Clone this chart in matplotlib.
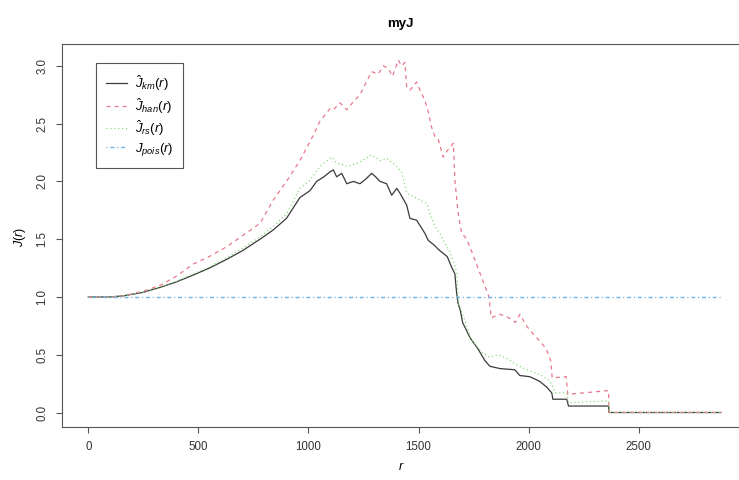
import matplotlib
matplotlib.use("Agg")
import matplotlib.pyplot as plt

plt.rcParams['font.family'] = ['Liberation Sans', 'DejaVu Sans']
plt.rcParams['mathtext.fontset'] = 'custom'
plt.rcParams['mathtext.rm'] = 'Liberation Sans'
plt.rcParams['mathtext.it'] = 'Liberation Sans:italic'
plt.rcParams['lines.scale_dashes'] = False

# J-function estimates against distance r
r_km = [0, 100, 160, 250, 326, 400, 477, 550, 628, 700, 780, 840, 900, 961, 1007,
        1037, 1070, 1098, 1113, 1128, 1151, 1174, 1204, 1234, 1260, 1287, 1305,
        1325, 1355, 1378, 1401, 1415, 1446, 1461, 1491, 1506, 1529, 1544, 1570,
        1597, 1630, 1652, 1665, 1672, 1679, 1690, 1700, 1733, 1770, 1801, 1824,
        1870, 1937, 1960, 2005, 2050, 2082, 2105, 2110, 2173, 2181, 2363, 2365, 2873]
j_km = [1.0, 1.0, 1.01, 1.04, 1.083, 1.13, 1.19, 1.25, 1.325, 1.40, 1.50, 1.58,
        1.68, 1.86, 1.92, 2.0, 2.04, 2.083, 2.10, 2.04, 2.07, 1.98, 2.0, 1.98,
        2.02, 2.07, 2.04, 2.0, 1.98, 1.88, 1.94, 1.90, 1.795, 1.68, 1.665, 1.62,
        1.55, 1.49, 1.45, 1.40, 1.35, 1.25, 1.2, 1.05, 0.95, 0.88, 0.78, 0.65,
        0.55, 0.45, 0.40, 0.38, 0.37, 0.32, 0.31, 0.27, 0.22, 0.17, 0.115, 0.115,
        0.056, 0.056, 0.0, 0.0]

r_han = [0, 100, 160, 250, 326, 400, 477, 550, 628, 700, 780, 840, 900, 961, 1022,
         1052, 1098, 1113, 1143, 1174, 1204, 1234, 1260, 1287, 1317, 1340, 1362,
         1382, 1408, 1423, 1438, 1446, 1461, 1491, 1506, 1529, 1544, 1559, 1574,
         1590, 1612, 1628, 1658, 1665, 1680, 1696, 1711, 1730, 1760, 1790, 1820,
         1830, 1870, 1910, 1940, 1960, 1990, 2020, 2050, 2080, 2100, 2107, 2170,
         2178, 2363, 2365, 2873]
j_han = [1.0, 1.0, 1.01, 1.05, 1.10, 1.18, 1.285, 1.35, 1.434, 1.53, 1.637, 1.838,
         2.0, 2.18, 2.40, 2.52, 2.63, 2.62, 2.68, 2.62, 2.69, 2.75, 2.85, 2.95,
         2.93, 3.0, 2.98, 2.91, 3.05, 3.0, 3.03, 2.82, 2.79, 2.86, 2.79, 2.70,
         2.60, 2.47, 2.39, 2.36, 2.21, 2.26, 2.33, 2.01, 1.72, 1.55, 1.52, 1.45,
         1.30, 1.15, 1.0, 0.82, 0.85, 0.82, 0.78, 0.85, 0.75, 0.68, 0.62, 0.55,
         0.45, 0.30, 0.31, 0.157, 0.19, 0.0, 0.0]

r_rs = [0, 100, 160, 250, 326, 400, 477, 550, 628, 700, 780, 840, 900, 961, 1007,
        1052, 1105, 1128, 1174, 1226, 1287, 1325, 1355, 1401, 1423, 1446, 1476,
        1506, 1537, 1552, 1574, 1597, 1612, 1640, 1660, 1675, 1680, 1700, 1720,
        1735, 1760, 1790, 1820, 1860, 1900, 1940, 1980, 2020, 2060, 2090, 2105,
        2120, 2173, 2181, 2363, 2365, 2873]
j_rs = [1.0, 1.0, 1.01, 1.04, 1.085, 1.135, 1.20, 1.26, 1.34, 1.42, 1.52, 1.61,
        1.72, 1.94, 2.01, 2.13, 2.21, 2.16, 2.13, 2.16, 2.23, 2.18, 2.20, 2.13,
        2.08, 1.90, 1.87, 1.84, 1.81, 1.72, 1.61, 1.55, 1.49, 1.40, 1.30, 1.20,
        0.95, 0.85, 0.75, 0.65, 0.58, 0.52, 0.48, 0.50, 0.47, 0.42, 0.38, 0.35,
        0.32, 0.28, 0.245, 0.17, 0.17, 0.085, 0.10, 0.0, 0.0]

r_pois = [0, 2873]
j_pois = [1.0, 1.0]

x_ticks = [0, 500, 1000, 1500, 2000, 2500]
y_ticks = [0.0, 0.5, 1.0, 1.5, 2.0, 2.5, 3.0]

fig = plt.figure(figsize=(7.39, 4.80), dpi=100)
ax = fig.add_axes([0.0843, 0.111, 0.9153, 0.797])

ax.plot(r_km, j_km, color='#3a3a3a', lw=0.9, ls='-', label=r'$\hat{J}_{km}(r)$')
ax.plot(r_han, j_han, color='#E8788A', lw=0.9, ls=(0, (2.9, 2.9)), label=r'$\hat{J}_{han}(r)$')
ax.plot(r_rs, j_rs, color='#7FD870', lw=0.9, ls=(0, (0.8, 2.0)), label=r'$\hat{J}_{rs}(r)$')
ax.plot(r_pois, j_pois, color='#6EB4EC', lw=1.0, ls=(0, (0.8, 2.0, 2.9, 2.0)), label=r'$J_{pois}(r)$')

ax.set_xlim(-118, 2954)
ax.set_ylim(-0.123, 3.188)
ax.set_xticks(x_ticks)
ax.set_xticklabels([str(v) for v in x_ticks])
ax.set_yticks(y_ticks)
ax.set_yticklabels([f'{v:.1f}' for v in y_ticks], rotation=90, va='center')

for s in ax.spines.values():
    s.set_color('#555555')
    s.set_linewidth(0.8)
ax.tick_params(direction='out', length=4, width=0.8, color='#555555',
               labelsize=8.3, labelcolor='#333333', pad=6)

ax.set_title('myJ', fontsize=9.5, fontweight='bold', pad=12)
fig.text(0.5425, 0.027, r'$r$', ha='center', va='center', fontsize=9)
fig.text(0.027, 0.507, r'$J(r)$', ha='center', va='center', rotation=90, fontsize=9)

leg = ax.legend(loc='upper left', bbox_to_anchor=(0.0498, 0.9496), borderaxespad=0,
                fancybox=False, edgecolor='#555555', framealpha=1, fontsize=9.5,
                handlelength=1.6, handletextpad=0.6, labelspacing=0.22,
                borderpad=0.75)
leg.get_frame().set_linewidth(0.8)

fig.savefig('out.png', dpi=100)
